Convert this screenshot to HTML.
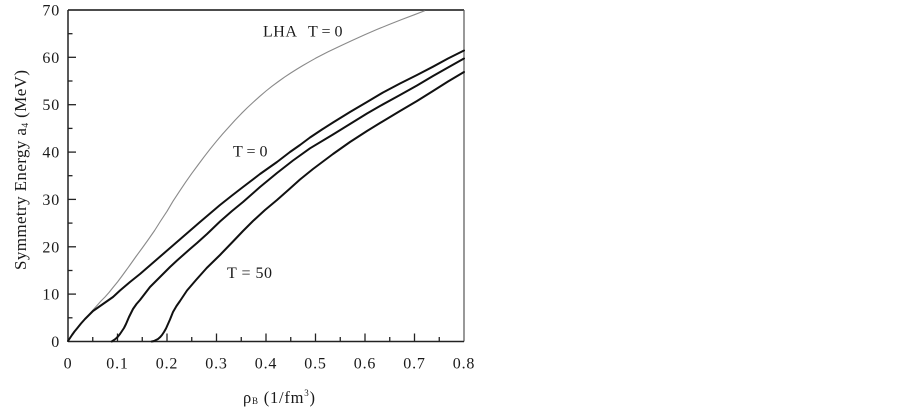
<!DOCTYPE html>
<html>
<head>
<meta charset="utf-8">
<style>
  html, body { margin:0; padding:0; background:#ffffff; }
  body { width:903px; height:410px; overflow:hidden; }
  svg { display:block; }
  text { font-family: "Liberation Serif", "DejaVu Serif", serif; fill:#1a1a1a; }
</style>
</head>
<body>
<svg width="903" height="410" viewBox="0 0 903 410" xmlns="http://www.w3.org/2000/svg">
  <rect x="0" y="0" width="903" height="410" fill="#ffffff"/>

  <!-- frame -->
  <line x1="68" y1="10" x2="464" y2="10" stroke="#333" stroke-width="1.8"/>
  <line x1="464" y1="10" x2="464" y2="341.5" stroke="#555" stroke-width="1.2"/>
  <line x1="68" y1="10" x2="68" y2="341.5" stroke="#222" stroke-width="1.5"/>
  <line x1="68" y1="341.5" x2="464" y2="341.5" stroke="#222" stroke-width="1.5"/>

  <!-- x ticks -->
  <g stroke="#222" stroke-width="1.3">
    <line x1="92.75" y1="341.5" x2="92.75" y2="337"/>
    <line x1="117.5" y1="341.5" x2="117.5" y2="333.5"/>
    <line x1="142.25" y1="341.5" x2="142.25" y2="337"/>
    <line x1="167" y1="341.5" x2="167" y2="333.5"/>
    <line x1="191.75" y1="341.5" x2="191.75" y2="337"/>
    <line x1="216.5" y1="341.5" x2="216.5" y2="333.5"/>
    <line x1="241.25" y1="341.5" x2="241.25" y2="337"/>
    <line x1="266" y1="341.5" x2="266" y2="333.5"/>
    <line x1="290.75" y1="341.5" x2="290.75" y2="337"/>
    <line x1="315.5" y1="341.5" x2="315.5" y2="333.5"/>
    <line x1="340.25" y1="341.5" x2="340.25" y2="337"/>
    <line x1="365" y1="341.5" x2="365" y2="333.5"/>
    <line x1="389.75" y1="341.5" x2="389.75" y2="337"/>
    <line x1="414.5" y1="341.5" x2="414.5" y2="333.5"/>
    <line x1="439.25" y1="341.5" x2="439.25" y2="337"/>
  </g>

  <!-- y ticks -->
  <g stroke="#222" stroke-width="1.3">
    <line x1="68" y1="317.8" x2="72.5" y2="317.8"/>
    <line x1="68" y1="294.1" x2="76" y2="294.1"/>
    <line x1="68" y1="270.5" x2="72.5" y2="270.5"/>
    <line x1="68" y1="246.8" x2="76" y2="246.8"/>
    <line x1="68" y1="223.1" x2="72.5" y2="223.1"/>
    <line x1="68" y1="199.4" x2="76" y2="199.4"/>
    <line x1="68" y1="175.7" x2="72.5" y2="175.7"/>
    <line x1="68" y1="152.1" x2="76" y2="152.1"/>
    <line x1="68" y1="128.4" x2="72.5" y2="128.4"/>
    <line x1="68" y1="104.7" x2="76" y2="104.7"/>
    <line x1="68" y1="81.0" x2="72.5" y2="81.0"/>
    <line x1="68" y1="57.3" x2="76" y2="57.3"/>
    <line x1="68" y1="33.7" x2="72.5" y2="33.7"/>
  </g>

  <!-- y tick labels -->
  <g font-size="16" text-anchor="end" letter-spacing="0.8">
    <text x="60" y="347">0</text>
    <text x="60" y="299.6">10</text>
    <text x="60" y="252.3">20</text>
    <text x="60" y="204.9">30</text>
    <text x="60" y="157.6">40</text>
    <text x="60" y="110.2">50</text>
    <text x="60" y="62.8">60</text>
    <text x="60" y="15.5">70</text>
  </g>

  <!-- x tick labels -->
  <g font-size="16" text-anchor="middle" letter-spacing="0.8">
    <text x="68" y="368.5">0</text>
    <text x="117.5" y="368.5">0.1</text>
    <text x="167" y="368.5">0.2</text>
    <text x="216.5" y="368.5">0.3</text>
    <text x="266" y="368.5">0.4</text>
    <text x="315.5" y="368.5">0.5</text>
    <text x="365" y="368.5">0.6</text>
    <text x="414.5" y="368.5">0.7</text>
    <text x="464" y="368.5">0.8</text>
  </g>

  <!-- axis titles -->
  <text x="243" y="403" font-size="16.5" textLength="72" lengthAdjust="spacing">ρ<tspan font-size="9" dy="1">B</tspan><tspan dy="-1"> (1/fm</tspan><tspan font-size="9" dy="-7">3</tspan><tspan dy="7">)</tspan></text>

  <g transform="translate(26,170) rotate(-90)">
    <text x="-100" y="0" font-size="17" textLength="200" lengthAdjust="spacing">Symmetry Energy a<tspan font-size="9.5" dy="2">4</tspan><tspan dy="-2"> (MeV)</tspan></text>
  </g>

  <!-- LHA curve -->
  <polyline fill="none" stroke="#8a8a8a" stroke-width="1.1" stroke-linejoin="round" stroke-linecap="round"
    points="68,341 70,338 72,335 74.5,331.5 77,328.5 81,323.5 85,319 89,314.5 93,310 97,305.5 101,301 105,297 109,292.5 113,287.5 117.5,282 122,276 126,270.5 130,265 136,256.5 142.25,248 148,240 154.6,230.5 160.6,221 167,211.3 173,201.2 179.4,191.4 185.6,182.2 191.75,173.4 198,165 204.1,156.8 210.3,148.8 216.5,141.2 222.7,133.9 228.9,127 235,120.2 241.25,113.7 247.4,107.6 253.6,101.9 259.8,96.3 266,91 272.2,86.1 278.4,81.5 284.6,77.1 290.75,73 296.9,69.1 303.1,65.4 309.3,61.8 315.5,58.3 327.9,51.9 340.25,46 352.6,40.2 365,34.6 377.4,29.3 389.75,24.2 402.1,19.4 414.5,14.7 424.4,10.9"/>

  <!-- T=0 curve -->
  <polyline fill="none" stroke="#111" stroke-width="2" stroke-linejoin="round" stroke-linecap="round"
    points="68,341 70,338 72,335 74.5,331.5 77,328.5 81,323.5 85,319 89,315 93,311 98,307.5 103,304 108,300.5 113,297 120,290.5 130,282 140,274 155,261 170,248 185,235 200,222 210,213.5 220,205 232,195.5 243,187 260,174 277,162 290,152 300,145 310,137.5 322,129.5 333,122.5 350,112 367,102 383,92.5 400,83.5 417,75 433,66.7 448,58.5 464,50.5"/>

  <!-- middle curve -->
  <polyline fill="none" stroke="#111" stroke-width="2" stroke-linejoin="round" stroke-linecap="round"
    points="111.7,341.5 114,340 116,338.5 118,336.5 120,334 122,331 124,328 126,324 129,317 133,309 136.5,304 140,300 145,293.5 150,287 160,277 170,267 177,260.5 190,249 197,243 207,234 220,221.5 232,211 243,202 260,187 277,173 293,160.5 310,148.3 333,134.5 350,124 367,113.5 380,106 400,95 417,85.5 433,76 448,67.5 464,58.5"/>

  <!-- T=50 curve -->
  <polyline fill="none" stroke="#111" stroke-width="2" stroke-linejoin="round" stroke-linecap="round"
    points="151.7,341.5 154,341 156,340 158,339 160,337.3 162,335 164,332 166,328.5 168,324 170,319.5 173,312 176.5,306 180,301 187,290.5 196,280 206.7,268 220,255 233,241.5 243,231 253,221 265,210 277,200 290,188.5 300,179.5 313,169 333,154 350,142 367,131 380,123 400,111 417,101 433,91 448,81.5 464,72"/>

  <!-- in-plot labels -->
  <text x="263" y="36.5" font-size="16" letter-spacing="0.5">LHA</text>
  <text x="308" y="36.5" font-size="16">T = 0</text>
  <text x="233" y="156.5" font-size="16">T = 0</text>
  <text x="227" y="278" font-size="16" letter-spacing="0.5">T = 50</text>
</svg>
</body>
</html>
